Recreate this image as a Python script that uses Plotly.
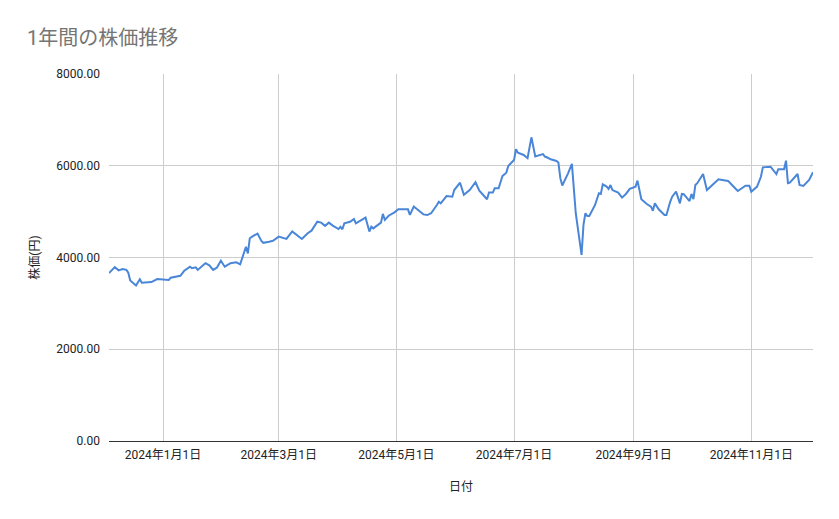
import plotly.graph_objects as go

dates = [
    "2023-12-04", "2023-12-07", "2023-12-09", "2023-12-11", "2023-12-13", "2023-12-14",
    "2023-12-15", "2023-12-18", "2023-12-20", "2023-12-21", "2023-12-26", "2023-12-29",
    "2024-01-04", "2024-01-05", "2024-01-10", "2024-01-12", "2024-01-15", "2024-01-16",
    "2024-01-18", "2024-01-19", "2024-01-23", "2024-01-25", "2024-01-27", "2024-01-29",
    "2024-01-31", "2024-02-02", "2024-02-05", "2024-02-08", "2024-02-10", "2024-02-13",
    "2024-02-14", "2024-02-15", "2024-02-17", "2024-02-19", "2024-02-21", "2024-02-22",
    "2024-02-25", "2024-02-27", "2024-03-01", "2024-03-05", "2024-03-08", "2024-03-13",
    "2024-03-16", "2024-03-18", "2024-03-21", "2024-03-23", "2024-03-25", "2024-03-27",
    "2024-03-29", "2024-04-01", "2024-04-02", "2024-04-03", "2024-04-04", "2024-04-07",
    "2024-04-09", "2024-04-10", "2024-04-15", "2024-04-17", "2024-04-18", "2024-04-19",
    "2024-04-23", "2024-04-24", "2024-04-25", "2024-04-27", "2024-04-30", "2024-05-02",
    "2024-05-07", "2024-05-08", "2024-05-10", "2024-05-12", "2024-05-15", "2024-05-17",
    "2024-05-19", "2024-05-22", "2024-05-23", "2024-05-24", "2024-05-27", "2024-05-30",
    "2024-05-31", "2024-06-03", "2024-06-05", "2024-06-08", "2024-06-11", "2024-06-13",
    "2024-06-17", "2024-06-18", "2024-06-20", "2024-06-21", "2024-06-23", "2024-06-25",
    "2024-06-27", "2024-06-28", "2024-07-01", "2024-07-02", "2024-07-03", "2024-07-06",
    "2024-07-08", "2024-07-10", "2024-07-12", "2024-07-16", "2024-07-17", "2024-07-18",
    "2024-07-20", "2024-07-23", "2024-07-24", "2024-07-25", "2024-07-26", "2024-07-29",
    "2024-07-30", "2024-07-31", "2024-08-02", "2024-08-05", "2024-08-06", "2024-08-07",
    "2024-08-08", "2024-08-09", "2024-08-12", "2024-08-14", "2024-08-15", "2024-08-16",
    "2024-08-18", "2024-08-19", "2024-08-20", "2024-08-21", "2024-08-24", "2024-08-26",
    "2024-08-28", "2024-08-30", "2024-09-02", "2024-09-03", "2024-09-05", "2024-09-08",
    "2024-09-10", "2024-09-11", "2024-09-12", "2024-09-14", "2024-09-17", "2024-09-18",
    "2024-09-20", "2024-09-21", "2024-09-23", "2024-09-25", "2024-09-26", "2024-09-27",
    "2024-09-30", "2024-10-01", "2024-10-02", "2024-10-03", "2024-10-04", "2024-10-07",
    "2024-10-09", "2024-10-12", "2024-10-15", "2024-10-17", "2024-10-20", "2024-10-22",
    "2024-10-25", "2024-10-29", "2024-10-31", "2024-11-01", "2024-11-04", "2024-11-06",
    "2024-11-07", "2024-11-11", "2024-11-14", "2024-11-15", "2024-11-18", "2024-11-19",
    "2024-11-20", "2024-11-21", "2024-11-25", "2024-11-26", "2024-11-28", "2024-12-01",
    "2024-12-03",
]

prices = [
    3660, 3790, 3720, 3750, 3730, 3670,
    3500, 3390, 3525, 3450, 3465, 3530,
    3510, 3560, 3600, 3710, 3800, 3765,
    3785, 3730, 3875, 3830, 3730, 3780,
    3930, 3800, 3875, 3895, 3850, 4235,
    4090, 4420, 4475, 4520, 4360, 4320,
    4345, 4365, 4455, 4405, 4570, 4405,
    4530, 4585, 4780, 4760, 4690, 4760,
    4695, 4620, 4670, 4615, 4745, 4780,
    4840, 4745, 4870, 4565, 4670, 4635,
    4760, 4950, 4820, 4910, 4985, 5050,
    5050, 4930, 5110, 5050, 4940, 4925,
    4965, 5145, 5215, 5180, 5340, 5325,
    5470, 5630, 5365, 5470, 5640, 5455,
    5270, 5415, 5415, 5510, 5510, 5775,
    5850, 5995, 6125, 6360, 6285, 6235,
    6165, 6620, 6200, 6255, 6200, 6185,
    6140, 6105, 6070, 5730, 5570, 5835,
    5925, 6040, 4965, 4055, 4710, 4965,
    4905, 4905, 5145, 5400, 5385, 5595,
    5545, 5495, 5580, 5470, 5415, 5305,
    5385, 5495, 5545, 5675, 5270, 5160,
    5110, 5020, 5180, 5050, 4925, 4925,
    5220, 5325, 5435, 5180, 5385, 5380,
    5230, 5385, 5270, 5580, 5620, 5820,
    5470, 5580, 5705, 5690, 5670, 5580,
    5450, 5565, 5565, 5435, 5545, 5760,
    5965, 5980, 5820, 5925, 5925, 6110,
    5620, 5630, 5820, 5580, 5560, 5690,
    5860,
]

x_tick_dates = ["2024-01-01", "2024-03-01", "2024-05-01", "2024-07-01", "2024-09-01", "2024-11-01"]
x_tick_labels = ["2024年1月1日", "2024年3月1日", "2024年5月1日", "2024年7月1日", "2024年9月1日", "2024年11月1日"]
y_tick_vals = [0, 2000, 4000, 6000, 8000]
y_tick_labels = ["0.00", "2000.00", "4000.00", "6000.00", "8000.00"]

font_family = "Roboto, 'Noto Sans CJK JP', sans-serif"

fig = go.Figure()
fig.add_trace(go.Scatter(
    x=dates, y=prices, mode="lines",
    line=dict(color="#4a86d8", width=2),
    hoverinfo="x+y",
))

# the page body adds an 8px margin, so the figure is 8px smaller and shifted
fig.update_layout(
    width=831, height=511,
    margin=dict(l=101, r=26, t=66, b=78),
    paper_bgcolor="white", plot_bgcolor="white",
    showlegend=False,
    font=dict(family=font_family, color="#222222", size=12),
    title=dict(
        text="1年間の株価推移",
        x=19 / 831, xanchor="left",
        y=1 - 30 / 511, yanchor="middle",
        font=dict(family=font_family, size=20, color="#757575"),
    ),
    xaxis=dict(
        range=[dates[0], dates[-1]],
        tickmode="array", tickvals=x_tick_dates, ticktext=x_tick_labels,
        showgrid=True, gridcolor="#cccccc", gridwidth=1,
        showline=False, zeroline=False, ticks="",
        tickfont=dict(size=12, color="#222222"),
        ticklabelstandoff=5,
        title=dict(text="日付", font=dict(size=12, color="#222222"), standoff=21),
        fixedrange=True,
    ),
    yaxis=dict(
        range=[0, 8000],
        tickmode="array", tickvals=y_tick_vals, ticktext=y_tick_labels,
        showgrid=True, gridcolor="#cccccc", gridwidth=1,
        zeroline=True, zerolinecolor="#333333", zerolinewidth=1,
        showline=False, ticks="",
        tickfont=dict(size=12, color="#222222"),
        ticklabelstandoff=8,
        title=dict(text="株価(円)", font=dict(size=12, color="#222222"), standoff=14),
        fixedrange=True,
    ),
)

fig.write_html("out.html")
